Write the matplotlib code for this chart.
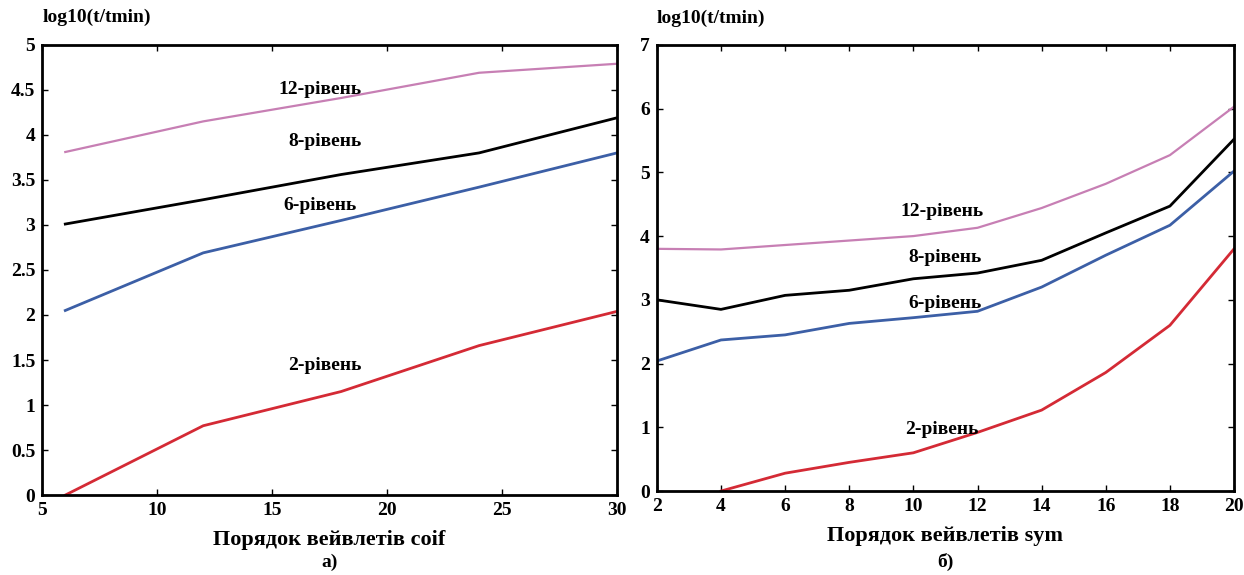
import matplotlib.pyplot as plt

plt.rcParams['font.family'] = ['Liberation Serif', 'DejaVu Serif']
plt.rcParams['font.weight'] = 'bold'

# a) coif
coif_x = [6, 12, 18, 24, 30]
coif_l12 = [3.81, 4.15, 4.41, 4.69, 4.79]
coif_l8 = [3.01, 3.28, 3.56, 3.80, 4.19]
coif_l6 = [2.05, 2.69, 3.05, 3.42, 3.80]
coif_l2 = [0.0, 0.77, 1.15, 1.66, 2.04]

# б) sym
sym_x = [2, 4, 6, 8, 10, 12, 14, 16, 18, 20]
sym_l12 = [3.80, 3.79, 3.86, 3.93, 4.00, 4.13, 4.44, 4.82, 5.27, 6.03]
sym_l8 = [3.00, 2.85, 3.07, 3.15, 3.33, 3.42, 3.62, 4.05, 4.47, 5.52]
sym_l6 = [2.04, 2.37, 2.45, 2.63, 2.72, 2.82, 3.20, 3.70, 4.17, 5.02]
sym_l2 = [None, 0.0, 0.28, 0.45, 0.60, 0.92, 1.27, 1.86, 2.60, 3.80]

colors = ['#c77fb4', 'black', '#3c5fa6', '#d42a35']
names = ['12-рівень', '8-рівень', '6-рівень', '2-рівень']

fig = plt.figure(figsize=(12.44, 5.75), dpi=100)
ax1 = fig.add_axes([0.034, 0.139, 0.462, 0.783])
ax2 = fig.add_axes([0.528, 0.146, 0.464, 0.776])

def draw(ax, x, series, lab_pos, xlim, ylim, yticks, yticklabels, xticks, xlabel, cap, cap_y):
    for ys, c in zip(series, colors):
        pts = [(a, b) for a, b in zip(x, ys) if b is not None]
        ax.plot([p[0] for p in pts], [p[1] for p in pts], color=c, lw=2 if c != '#c77fb4' else 1.6)
    for name, (tx, ty) in zip(names, lab_pos):
        ax.text(tx, ty, name, ha='center', va='center', fontsize=14, fontweight='bold')
    ax.set_xlim(*xlim)
    ax.set_ylim(*ylim)
    ax.set_xticks(xticks)
    ax.set_yticks(yticks)
    ax.set_yticklabels(yticklabels)
    ax.tick_params(direction='in', top=True, right=True, labelsize=14, length=4, width=1, pad=5)
    for s in ax.spines.values():
        s.set_linewidth(2)
    for t in ax.get_xticklabels() + ax.get_yticklabels():
        t.set_fontweight('bold')
    ax.set_xlabel(xlabel, fontsize=16, fontweight='bold', labelpad=8)
    ax.text(0.5, cap_y, cap, transform=ax.transAxes, ha='center', va='center', fontsize=14, fontweight='bold')
    ax.text(0.0, 1.06, 'log10(t/tmin)', transform=ax.transAxes, ha='left', va='center', fontsize=14, fontweight='bold')

draw(ax1, coif_x, [coif_l12, coif_l8, coif_l6, coif_l2],
     [(17.1, 4.5), (17.3, 3.93), (17.1, 3.22), (17.3, 1.44)],
     (5, 30), (0, 5), [0, 0.5, 1, 1.5, 2, 2.5, 3, 3.5, 4, 4.5, 5],
     ['0', '0.5', '1', '1.5', '2', '2.5', '3', '3.5', '4', '4.5', '5'],
     [5, 10, 15, 20, 25, 30], 'Порядок вейвлетів coif', 'а)', -0.15)

draw(ax2, sym_x, [sym_l12, sym_l8, sym_l6, sym_l2],
     [(10.9, 4.38), (11.0, 3.67), (11.0, 2.94), (10.9, 0.96)],
     (2, 20), (0, 7), [0, 1, 2, 3, 4, 5, 6, 7],
     ['0', '1', '2', '3', '4', '5', '6', '7'],
     sym_x, 'Порядок вейвлетів sym', 'б)', -0.16)

fig.savefig('out.png', dpi=100)
